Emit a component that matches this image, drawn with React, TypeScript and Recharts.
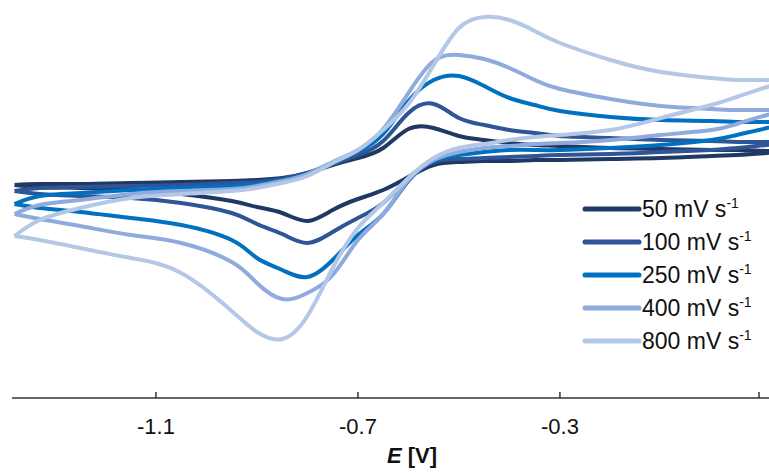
import React from 'react'
import { LineChart, Line, XAxis, YAxis, Legend } from 'recharts'

// potential grid (V) shared by the forward and reverse sweeps
const E_GRID = [
  -1.38, -1.33, -1.25, -1.15, -1.05, -0.95, -0.9, -0.85, -0.8, -0.75, -0.7, -0.65,
  -0.6, -0.55, -0.5, -0.45, -0.4, -0.35, -0.3, -0.2, -0.1, 0.0, 0.05, 0.11, 0.14
]

// current (arb. units), forward sweep, read left to right
const UP_50 = [3.0, 3.2, 3.2, 3.4, 3.6, 3.8, 4.0, 4.4, 5.4, 7.0, 8.4, 10.4, 14.2, 14.4, 12.8, 12.0, 11.4, 11.0, 10.8, 10.4, 10.2, 10.0, 10.0, 9.8, 9.7]
const UP_100 = [1.8, 2.4, 2.6, 2.8, 3.0, 3.4, 3.6, 4.2, 5.4, 7.2, 9.0, 11.8, 17.4, 19.2, 16.4, 15.0, 14.0, 13.4, 12.8, 12.4, 12.0, 11.8, 11.6, 11.6, 11.5]
const UP_250 = [-0.8, 0.8, 1.4, 2.0, 2.4, 2.8, 3.2, 4.0, 5.2, 7.4, 9.6, 13.2, 19.8, 24.0, 24.8, 22.8, 20.4, 19.0, 17.8, 16.6, 16.0, 15.8, 15.6, 15.6, 15.4]
const UP_400 = [-2.8, -1.0, 0.0, 1.2, 1.8, 2.2, 2.8, 3.8, 5.2, 7.6, 10.0, 14.2, 21.4, 27.8, 29.0, 28.2, 26.4, 24.0, 22.2, 20.2, 18.8, 18.2, 18.0, 18.0, 17.8]
const UP_800 = [-7.2, -4.0, -1.6, 0.4, 1.2, 1.8, 2.4, 3.4, 4.8, 7.4, 10.0, 14.0, 19.2, 27.0, 34.4, 36.6, 36.0, 33.8, 31.4, 28.0, 25.6, 24.4, 24.0, 24.0, 23.8]

// current, reverse sweep (same grid, drawn right to left)
const LOW_50 = [3.0, 2.6, 2.4, 2.0, 1.2, -0.2, -1.4, -2.6, -4.2, -2.0, 0.2, 2.0, 4.6, 7.0, 7.6, 7.8, 7.8, 8.0, 8.0, 8.2, 8.4, 8.8, 9.0, 9.4, 9.7]
const LOW_100 = [1.8, 1.2, 0.8, 0.4, -0.6, -2.6, -4.8, -6.8, -8.6, -6.4, -3.6, -0.6, 4.4, 7.6, 8.2, 8.4, 8.6, 8.8, 9.0, 9.2, 9.6, 10.0, 10.4, 11.0, 11.5]
const LOW_250 = [-0.8, -1.6, -2.4, -3.6, -5.0, -8.0, -11.6, -14.0, -15.4, -12.0, -7.0, -2.8, 3.8, 7.8, 9.0, 9.6, 10.0, 10.0, 10.0, 10.4, 11.0, 12.0, 13.0, 14.4, 15.4]
const LOW_400 = [-2.8, -3.8, -5.2, -7.0, -8.6, -12.4, -16.6, -19.8, -18.6, -15.0, -8.0, -2.8, 4.0, 8.0, 9.6, 10.4, 10.8, 11.2, 11.4, 12.0, 13.0, 14.0, 15.2, 17.0, 17.8]
const LOW_800 = [-7.2, -8.0, -9.6, -11.6, -14.6, -22.2, -26.4, -27.8, -23.2, -13.6, -5.6, -0.6, 4.4, 8.4, 10.4, 11.2, 12.0, 12.6, 13.0, 14.0, 16.4, 19.0, 20.6, 22.6, 23.8]

const RATES = ['50', '100', '250', '400', '800']
const COLORS = ['#203864', '#2F5597', '#0070C0', '#8FAADC', '#B4C7E7']
const X_TICKS = [-1.1, -0.7, -0.3, 0.1]

const FONT = '"Liberation Sans", Arial, sans-serif'

function makeLoop(up: number[], low: number[]) {
  const pts = up.map((v, k) => ({ e: E_GRID[k], i: v }))
  for (let k = low.length - 2; k >= 0; k--) {
    pts.push({ e: E_GRID[k], i: low[k] })
  }
  return pts
}

const loops = [
  makeLoop(UP_50, LOW_50),
  makeLoop(UP_100, LOW_100),
  makeLoop(UP_250, LOW_250),
  makeLoop(UP_400, LOW_400),
  makeLoop(UP_800, LOW_800)
]

const Tick = (props: any) => {
  const { x, y, payload } = props
  return (
    <g>
      <line x1={x} x2={x} y1={y - 6} y2={y} stroke="#333" strokeWidth={1.5} />
      {payload.value !== 0.1 && (
        <text x={x} y={y + 36} textAnchor="middle" fontSize={22} fill="#111" fontFamily={FONT}>
          {String(payload.value)}
        </text>
      )}
    </g>
  )
}

const AxisTitle = (props: any) => {
  const { viewBox } = props
  const cx = 412
  return (
    <text x={cx} y={viewBox.y + 65} textAnchor="middle" fontSize={22} fill="#111" fontFamily={FONT} fontWeight="bold">
      <tspan fontStyle="italic">E</tspan>
      <tspan> [V]</tspan>
    </text>
  )
}

const renderLegend = () => (
  <div style={{ fontFamily: FONT, fontSize: 23, color: '#111' }}>
    {RATES.map((r, k) => (
      <div key={r} style={{ display: 'flex', alignItems: 'center', height: 33 }}>
        <svg width={60} height={10}>
          <line x1={3} x2={57} y1={5} y2={5} stroke={COLORS[k]} strokeWidth={5} strokeLinecap="round" />
        </svg>
        <span style={{ whiteSpace: 'nowrap' }}>
          {r} mV s<sup style={{ fontSize: 14 }}>-1</sup>
        </span>
      </div>
    ))}
  </div>
)

export default function App() {
  return (
    <div style={{ position: 'absolute', left: 0, top: 0 }}>
      <LineChart width={769} height={473} margin={{ top: 0, right: 0, left: 12, bottom: 0 }}>
        <XAxis
          dataKey="e"
          type="number"
          domain={[-1.385, 0.114]}
          ticks={X_TICKS}
          allowDataOverflow
          height={75}
          tickSize={0}
          tickMargin={0}
          tick={<Tick />}
          tickLine={false}
          axisLine={{ stroke: '#333', strokeWidth: 1.5 }}
          label={<AxisTitle />}
        />
        <YAxis hide type="number" dataKey="i" domain={[-39.6, 40]} allowDataOverflow />
        <Legend
          layout="vertical"
          align="center"
          verticalAlign="middle"
          content={renderLegend}
          wrapperStyle={{ position: 'absolute', left: 582, top: 192, width: 190 }}
        />
        {loops.map((d, k) => (
          <Line
            key={RATES[k]}
            data={d}
            dataKey="i"
            type="natural"
            stroke={COLORS[k]}
            strokeWidth={4}
            dot={false}
            activeDot={false}
            isAnimationActive={false}
            legendType="none"
          />
        ))}
      </LineChart>
    </div>
  )
}
